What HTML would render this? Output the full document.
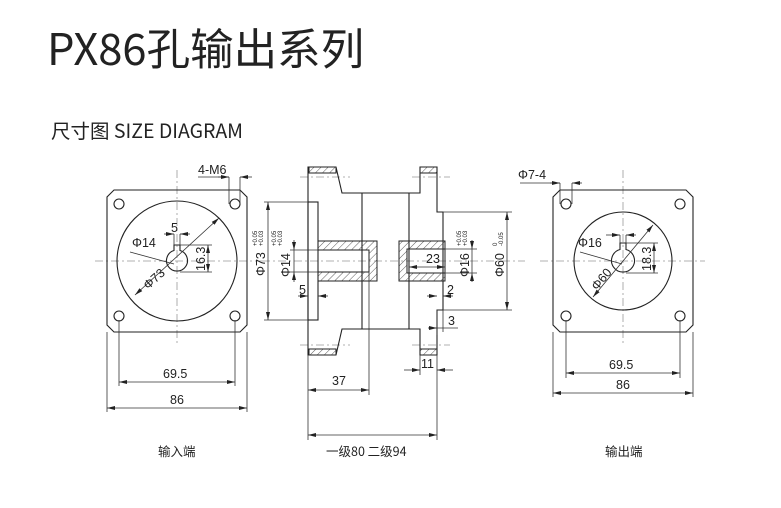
<!DOCTYPE html>
<html><head><meta charset="utf-8"><style>
html,body{margin:0;padding:0;background:#fff;width:781px;height:508px;overflow:hidden}
svg{display:block}
text{font-family:"Liberation Sans","Noto Sans CJK SC",sans-serif;fill:#222}
</style></head><body>
<svg width="781" height="508" viewBox="0 0 781 508" xmlns="http://www.w3.org/2000/svg">
<defs>
<pattern id="h" width="5" height="5" patternUnits="userSpaceOnUse" patternTransform="rotate(45)">
<line x1="0" y1="0" x2="0" y2="5" stroke="#333" stroke-width="0.8"/></pattern>
<marker id="a" markerWidth="8" markerHeight="6" refX="8" refY="3" orient="auto-start-reverse" markerUnits="userSpaceOnUse"><path d="M0,1 L8,3 L0,5 Z" fill="#222"/></marker>
</defs>
<text x="47" y="65" font-size="43.5" style="font-family:'Noto Sans CJK SC',sans-serif" fill="#222">PX86孔输出系列</text>
<text x="51" y="138" font-size="19.5" style="font-family:'Noto Sans CJK SC',sans-serif">尺寸图 SIZE DIAGRAM</text>

<g stroke="#999" stroke-width="0.8" stroke-dasharray="8,3,2,3" fill="none">
<line x1="95" y1="261" x2="262" y2="261"/><line x1="177" y1="170" x2="177" y2="345"/>
<line x1="262" y1="261" x2="525" y2="261"/>
<line x1="540" y1="261" x2="705" y2="261"/><line x1="623" y1="170" x2="623" y2="345"/>
<line x1="300" y1="177" x2="350" y2="177"/><line x1="412" y1="177" x2="450" y2="177"/>
<line x1="300" y1="345" x2="350" y2="345"/><line x1="412" y1="345" x2="450" y2="345"/>
</g>

<g stroke="#222" stroke-width="1.1" fill="none">
<path d="M114,190 L240,190 L247,197 L247,325 L240,332 L114,332 L107,325 L107,197 Z"/>
<circle cx="177" cy="261" r="60"/>
<circle cx="119" cy="204" r="5"/><circle cx="235" cy="204" r="5"/>
<circle cx="119" cy="316" r="5"/><circle cx="235" cy="316" r="5"/>
<path d="M174,250.5 A10.5,10.5 0 1 0 180,250.5 L180,245 L174,245 Z"/>
<path d="M560,190 L686,190 L693,197 L693,325 L686,332 L560,332 L553,325 L553,197 Z"/>
<circle cx="623" cy="261" r="49"/>
<circle cx="566" cy="204" r="5"/><circle cx="680" cy="204" r="5"/>
<circle cx="566" cy="316" r="5"/><circle cx="680" cy="316" r="5"/>
<path d="M620,249.5 A11.5,11.5 0 1 0 626,249.5 L626,243 L620,243 Z"/>
<path d="M308,167 L336,167 L342,193 L420,193 L420,167 L437,167 L437,212 L443,212 L443,310 L437,310 L437,355 L420,355 L420,329 L342,329 L336,355 L308,355 Z"/>
<rect x="308" y="202" width="10" height="118"/>
<line x1="362" y1="193" x2="362" y2="329"/><line x1="409" y1="193" x2="409" y2="329"/>
</g>
<g stroke="#222" stroke-width="1">
<rect x="309" y="167" width="27" height="6" fill="url(#h)"/>
<rect x="309" y="349" width="27" height="6" fill="url(#h)"/>
<rect x="420" y="167" width="17" height="6" fill="url(#h)"/>
<rect x="420" y="349" width="17" height="6" fill="url(#h)"/>
<path d="M318,241 L377,241 L377,281 L318,281 L318,272 L369,272 L369,250 L318,250 Z" fill="url(#h)"/>
<path d="M399,241 L445,241 L445,249 L407,249 L407,273 L445,273 L445,281 L399,281 Z" fill="url(#h)"/>
<line x1="445" y1="249" x2="445" y2="273"/>
</g>

<g stroke="#333" stroke-width="0.8" fill="none">
<line x1="119" y1="320" x2="119" y2="386"/><line x1="235" y1="320" x2="235" y2="386"/>
<line x1="119" y1="382" x2="235" y2="382" marker-start="url(#a)" marker-end="url(#a)"/>
<line x1="107" y1="332" x2="107" y2="412"/><line x1="247" y1="332" x2="247" y2="412"/>
<line x1="107" y1="408" x2="247" y2="408" marker-start="url(#a)" marker-end="url(#a)"/>
<line x1="135" y1="295" x2="219" y2="218" marker-start="url(#a)" marker-end="url(#a)"/>
<line x1="130" y1="252" x2="174" y2="264"/>
<line x1="164" y1="234" x2="174" y2="234" marker-end="url(#a)"/><line x1="190" y1="234" x2="180" y2="234" marker-end="url(#a)"/>
<line x1="174" y1="234" x2="174" y2="245"/><line x1="180" y1="234" x2="180" y2="245"/>
<line x1="180" y1="245" x2="212" y2="245"/><line x1="180" y1="272" x2="212" y2="272"/>
<line x1="208" y1="245" x2="208" y2="272" marker-start="url(#a)" marker-end="url(#a)"/>
<line x1="198" y1="177" x2="229" y2="177"/><line x1="229" y1="177" x2="229" y2="204"/><line x1="240" y1="177" x2="240" y2="204"/>
<line x1="218" y1="177" x2="229" y2="177" marker-end="url(#a)"/><line x1="252" y1="177" x2="240" y2="177" marker-end="url(#a)"/>
<line x1="566" y1="320" x2="566" y2="378"/><line x1="680" y1="320" x2="680" y2="378"/>
<line x1="566" y1="373" x2="680" y2="373" marker-start="url(#a)" marker-end="url(#a)"/>
<line x1="553" y1="332" x2="553" y2="397"/><line x1="693" y1="332" x2="693" y2="397"/>
<line x1="553" y1="393" x2="693" y2="393" marker-start="url(#a)" marker-end="url(#a)"/>
<line x1="593" y1="297" x2="653" y2="225" marker-start="url(#a)" marker-end="url(#a)"/>
<line x1="580" y1="252" x2="622" y2="264"/>
<line x1="606" y1="235" x2="620" y2="235" marker-end="url(#a)"/><line x1="636" y1="235" x2="626" y2="235" marker-end="url(#a)"/>
<line x1="620" y1="235" x2="620" y2="243"/><line x1="626" y1="235" x2="626" y2="243"/>
<line x1="626" y1="243" x2="658" y2="243"/><line x1="626" y1="273" x2="658" y2="273"/>
<line x1="654" y1="243" x2="654" y2="273" marker-start="url(#a)" marker-end="url(#a)"/>
<line x1="520" y1="183" x2="560" y2="183"/><line x1="560" y1="183" x2="560" y2="204"/><line x1="572" y1="183" x2="572" y2="204"/>
<line x1="550" y1="183" x2="560" y2="183" marker-end="url(#a)"/><line x1="582" y1="183" x2="572" y2="183" marker-end="url(#a)"/>
<line x1="308" y1="202" x2="264" y2="202"/><line x1="308" y1="320" x2="264" y2="320"/>
<line x1="268" y1="202" x2="268" y2="320" marker-start="url(#a)" marker-end="url(#a)"/>
<line x1="318" y1="250" x2="290" y2="250"/><line x1="318" y1="272" x2="290" y2="272"/>
<line x1="294" y1="240" x2="294" y2="250" marker-end="url(#a)"/><line x1="294" y1="282" x2="294" y2="272" marker-end="url(#a)"/>
<line x1="294" y1="250" x2="294" y2="272"/>
<line x1="298" y1="296" x2="308" y2="296" marker-end="url(#a)"/><line x1="328" y1="296" x2="318" y2="296" marker-end="url(#a)"/>
<line x1="445" y1="249" x2="477" y2="249"/><line x1="445" y1="273" x2="477" y2="273"/>
<line x1="472" y1="240" x2="472" y2="249" marker-end="url(#a)"/><line x1="472" y1="282" x2="472" y2="273" marker-end="url(#a)"/>
<line x1="472" y1="249" x2="472" y2="273"/>
<line x1="409" y1="267" x2="445" y2="267" marker-start="url(#a)" marker-end="url(#a)"/>
<line x1="443" y1="212" x2="512" y2="212"/><line x1="443" y1="310" x2="512" y2="310"/>
<line x1="507" y1="212" x2="507" y2="310" marker-start="url(#a)" marker-end="url(#a)"/>
<line x1="427" y1="296" x2="437" y2="296" marker-end="url(#a)"/><line x1="453" y1="296" x2="443" y2="296" marker-end="url(#a)"/>
<line x1="437" y1="310" x2="437" y2="335"/>
<line x1="428" y1="328" x2="437" y2="328" marker-end="url(#a)"/><line x1="437" y1="328" x2="458" y2="328"/>
<line x1="443" y1="310" x2="443" y2="332"/>
<line x1="420" y1="355" x2="420" y2="375"/><line x1="437" y1="355" x2="437" y2="440"/>
<line x1="404" y1="370" x2="420" y2="370" marker-end="url(#a)"/><line x1="453" y1="370" x2="437" y2="370" marker-end="url(#a)"/>
<line x1="308" y1="355" x2="308" y2="440"/><line x1="369" y1="272" x2="369" y2="395"/>
<line x1="308" y1="390" x2="369" y2="390" marker-start="url(#a)" marker-end="url(#a)"/>
<line x1="308" y1="435" x2="437" y2="435" marker-start="url(#a)" marker-end="url(#a)"/>
</g>

<g font-size="12.5">
<text x="198" y="174">4-M6</text>
<text x="171" y="232">5</text>
<text x="132" y="247">Φ14</text>
<text x="148" y="290" transform="rotate(-42 148 290)">Φ73</text>
<text x="205" y="271" transform="rotate(-90 205 271)">16.3</text>
<text x="163" y="378">69.5</text>
<text x="170" y="404">86</text>
<text x="518" y="179">Φ7-4</text>
<text x="578" y="247">Φ16</text>
<text x="597" y="291" transform="rotate(-50 597 291)">Φ60</text>
<text x="651" y="271" transform="rotate(-90 651 271)">18.3</text>
<text x="609" y="369">69.5</text>
<text x="616" y="389">86</text>
<text x="265" y="276" transform="rotate(-90 265 276)">Φ73</text>
<text x="290" y="277" transform="rotate(-90 290 277)">Φ14</text>
<text x="299" y="294">5</text>
<text x="426" y="263">23</text>
<text x="469" y="277" transform="rotate(-90 469 277)">Φ16</text>
<text x="504" y="277" transform="rotate(-90 504 277)">Φ60</text>
<text x="447" y="294">2</text>
<text x="448" y="325">3</text>
<text x="421" y="368">11</text>
<text x="332" y="385">37</text>
<text x="326" y="456" style="font-family:'Noto Sans CJK SC',sans-serif">一级80 二级94</text>
<text x="158" y="456" style="font-family:'Noto Sans CJK SC',sans-serif">输入端</text>
<text x="605" y="456" style="font-family:'Noto Sans CJK SC',sans-serif">输出端</text>
</g>
<g font-size="6">
<text x="257" y="246" transform="rotate(-90 257 246)">+0.05</text>
<text x="263" y="246" transform="rotate(-90 263 246)">+0.03</text>
<text x="276" y="246" transform="rotate(-90 276 246)">+0.05</text>
<text x="282" y="246" transform="rotate(-90 282 246)">+0.03</text>
<text x="461" y="246" transform="rotate(-90 461 246)">+0.05</text>
<text x="467" y="246" transform="rotate(-90 467 246)">+0.03</text>
<text x="497" y="246" transform="rotate(-90 497 246)">0</text>
<text x="503" y="246" transform="rotate(-90 503 246)">-0.05</text>
</g>
</svg>
</body></html>
